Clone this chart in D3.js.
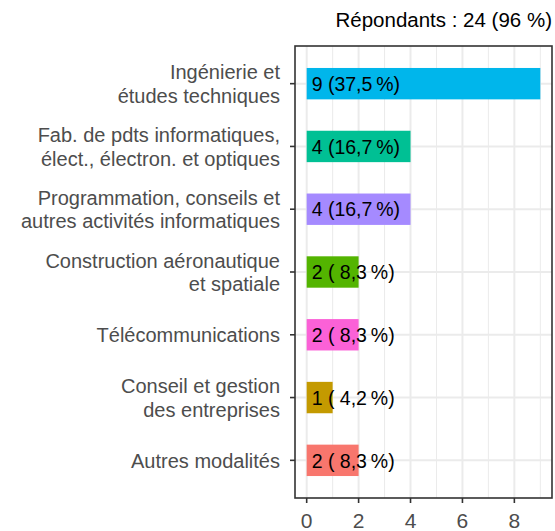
<!DOCTYPE html>
<html>
<head>
<meta charset="utf-8">
<script src="https://cdn.jsdelivr.net/npm/d3@7"></script>
<style>
	body { margin: 0; background: #fff; }
	svg text { font-family: "Liberation Sans", Arial, sans-serif; }
</style>
</head>
<body>
<div id="chart"></div>
<script>
// data, top to bottom
var categories = [
	["Ingénierie et", "études techniques"],
	["Fab. de pdts informatiques,", "élect., électron. et optiques"],
	["Programmation, conseils et", "autres activités informatiques"],
	["Construction aéronautique", "et spatiale"],
	["Télécommunications"],
	["Conseil et gestion", "des entreprises"],
	["Autres modalités"]
];
var counts = [9, 4, 4, 2, 2, 1, 2];
var labels = ["9 (37,5\u202F%)", "4 (16,7\u202F%)", "4 (16,7\u202F%)", "2 ( 8,3\u202F%)", "2 ( 8,3\u202F%)", "1 ( 4,2\u202F%)", "2 ( 8,3\u202F%)"];
var colors = ["#00B6EB", "#00C094", "#A58AFF", "#53B400", "#FB61D7", "#C49A00", "#F8766D"];
var xTicks = [0, 2, 4, 6, 8];
var xMinor = [1, 3, 5, 7, 9];
var title = "Répondants : 24 (96 %)";

var chartWidth = 555,
	chartHeight = 531,
	margin = { top: 46, right: 3, bottom: 33, left: 295 },
	width = chartWidth - margin.left - margin.right,
	height = chartHeight - margin.top - margin.bottom;

var x = d3.scaleLinear().domain([-0.45, 9.45]).range([0, width]);
// ggplot style discrete axis: 0.6 expansion on each side
var step = height / (categories.length + 0.2);
function yc(i) { return step * (i + 0.6); }
var barH = step * 0.5;

var svg = d3.select("#chart").append("svg")
	.attr("width", chartWidth)
	.attr("height", chartHeight);

svg.append("text")
	.attr("x", chartWidth - 3)
	.attr("y", 27)
	.attr("text-anchor", "end")
	.attr("font-size", 20.5)
	.attr("fill", "#000")
	.text(title);

var g = svg.append("g")
	.attr("transform", "translate(" + margin.left + "," + margin.top + ")");

// grid
g.selectAll(".minor").data(xMinor).enter().append("line")
	.attr("x1", function(d) { return x(d); })
	.attr("x2", function(d) { return x(d); })
	.attr("y1", 0).attr("y2", height)
	.attr("stroke", "#ebebeb").attr("stroke-width", 1);
g.selectAll(".major").data(xTicks).enter().append("line")
	.attr("x1", function(d) { return x(d); })
	.attr("x2", function(d) { return x(d); })
	.attr("y1", 0).attr("y2", height)
	.attr("stroke", "#ebebeb").attr("stroke-width", 2);
g.selectAll(".hgrid").data(counts).enter().append("line")
	.attr("x1", 0).attr("x2", width)
	.attr("y1", function(d, i) { return yc(i); })
	.attr("y2", function(d, i) { return yc(i); })
	.attr("stroke", "#ebebeb").attr("stroke-width", 2);

// bars
g.selectAll(".bar").data(counts).enter().append("rect")
	.attr("x", x(0))
	.attr("y", function(d, i) { return yc(i) - barH / 2; })
	.attr("width", function(d) { return x(d) - x(0); })
	.attr("height", barH)
	.attr("fill", function(d, i) { return colors[i]; });

g.selectAll(".lab").data(labels).enter().append("text")
	.attr("x", x(0) + 5)
	.attr("y", function(d, i) { return yc(i); })
	.attr("dy", "0.37em")
	.attr("font-size", 19.5)
	.attr("fill", "#000")
	.attr("xml:space", "preserve")
	.text(function(d) { return d; });

// panel border
g.append("rect")
	.attr("x", 0).attr("y", 0)
	.attr("width", width).attr("height", height)
	.attr("fill", "none")
	.attr("stroke", "#333").attr("stroke-width", 1.6);

// x axis
var xAxis = g.append("g")
	.attr("transform", "translate(0," + height + ")");
xAxis.selectAll("line").data(xTicks).enter().append("line")
	.attr("x1", function(d) { return x(d); })
	.attr("x2", function(d) { return x(d); })
	.attr("y1", 0).attr("y2", 5)
	.attr("stroke", "#333").attr("stroke-width", 1.6);
xAxis.selectAll("text").data(xTicks).enter().append("text")
	.attr("x", function(d) { return x(d); })
	.attr("y", 30)
	.attr("text-anchor", "middle")
	.attr("font-size", 21)
	.attr("fill", "#4d4d4d")
	.text(function(d) { return d; });

// y axis
var yAxis = g.append("g");
yAxis.selectAll("line").data(categories).enter().append("line")
	.attr("x1", -5).attr("x2", 0)
	.attr("y1", function(d, i) { return yc(i); })
	.attr("y2", function(d, i) { return yc(i); })
	.attr("stroke", "#333").attr("stroke-width", 1.6);
var lineH = 23.5;
yAxis.selectAll("text").data(categories).enter().append("text")
	.attr("x", -15)
	.attr("y", function(d, i) { return yc(i) - (d.length - 1) * lineH / 2; })
	.attr("text-anchor", "end")
	.attr("font-size", 20)
	.attr("fill", "#4d4d4d")
	.each(function(d) {
		var t = d3.select(this);
		d.forEach(function(line, k) {
			t.append("tspan")
				.attr("x", -15)
				.attr("dy", k === 0 ? "0.37em" : lineH)
				.text(line);
		});
	});
</script>
</body>
</html>
